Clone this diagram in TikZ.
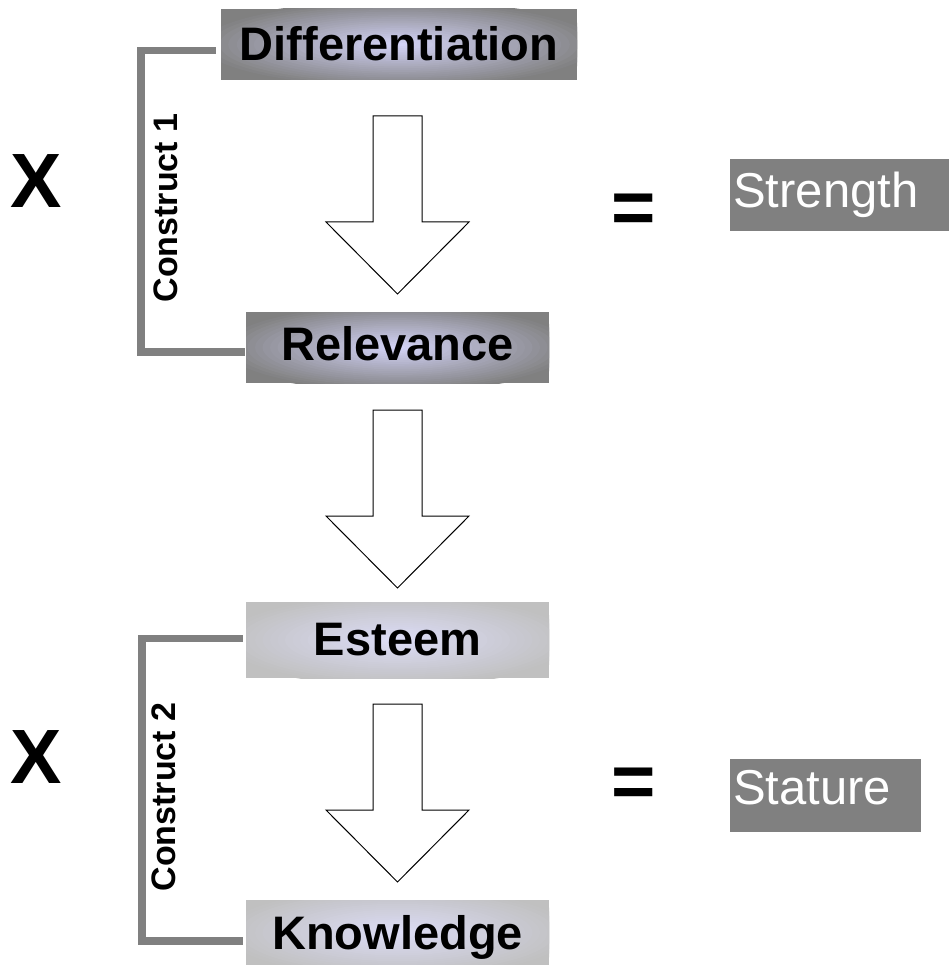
\documentclass[tikz,border=0pt]{standalone}
\usepackage{fontspec}
\setmainfont{Liberation Sans}

\definecolor{boxdark}{RGB}{128,128,128}
\definecolor{boxlight}{RGB}{192,192,192}
\definecolor{glowlav}{RGB}{210,210,246}
\definecolor{glowpale}{RGB}{220,220,246}

\begin{document}
\begin{tikzpicture}[x=1pt,y=1pt,
  stepbox/.style={inner sep=0pt,text height=34pt,minimum height=71pt,font=\fontsize{47pt}{47pt}\selectfont\bfseries},
  glow/.style n args={4}{fill=#2,path picture={
    \foreach \k [evaluate=\k as \pct using int(\k*100/23), evaluate=\k as \rf using 1-\k/24] in {0,...,23}
      \fill[#1!\pct!#2] (path picture bounding box.center) ellipse [x radius=\rf*#3pt, y radius=\rf*#4pt];}},
  darkbox/.style={stepbox,glow={glowlav}{boxdark}{#1}{44}},
  palebox/.style={stepbox,glow={glowpale}{boxlight}{#1}{46}},
  result/.style={fill=boxdark,text=white,inner sep=0pt,inner xsep=3pt,align=left,anchor=north west,font=\fontsize{49pt}{49pt}\selectfont},
  construct/.style={rotate=90,inner sep=0pt,text height=24.5pt,text depth=0pt,font=\fontsize{34pt}{34pt}\selectfont\bfseries},
  mult/.style={inner sep=0pt,text height=55pt,text depth=0pt,font=\fontsize{77pt}{77pt}\selectfont\bfseries},
  eqsign/.style={inner sep=0pt,anchor=base,font=\fontsize{76pt}{76pt}\selectfont\bfseries},
  bracket/.style={draw=boxdark,line width=7.5pt},
  blockarrow/.style={draw=black,fill=white,line width=1pt}]
\useasboundingbox (0,0) rectangle (949,-965);

% construct 1
\node[darkbox=205,minimum width=356pt,text depth=2pt] (diff) at (399,-44.5) {Differentiation};
\node[darkbox=180,minimum width=303pt,text depth=9pt] (rel) at (397.5,-347.5) {Relevance};
\draw[bracket] ([shift={(-5pt,-6pt)}]diff.west) -- ++(-75,0) |- ([shift={(-1pt,-4.5pt)}]rel.west);
\node[construct] (con1) at (165.5,-208) {Construct 1};
\node[mult] (x1) at (36.5,-180) {X};
\node[eqsign] (eq1) at (634,-234) {=};
\node[result,text width=213pt,text height=48pt,text depth=24pt] (str) at (730,-159) {Strength};

% construct 2
\node[palebox=180,minimum width=303pt,minimum height=76pt,text depth=4pt] (est) at (397.5,-640) {Esteem};
\node[palebox=180,minimum width=303pt,minimum height=65pt,text depth=0pt] (know) at (397.5,-932.5) {Knowledge};
\draw[bracket] ([shift={(-3pt,1.5pt)}]est.west) -- ++(-101,0) |- ([shift={(-3pt,-8.5pt)}]know.west);
\node[construct] (con2) at (163,-797) {Construct 2};
\node[mult] (x2) at (36.5,-755.5) {X};
\node[eqsign] (eq2) at (633.5,-807) {=};
\node[result,text width=185pt,text height=45pt,text depth=28pt] (stat) at (730,-759) {Stature};

% block arrows
\foreach \top in {116,410,704}
  \draw[blockarrow] (373,-\top) -- (422,-\top) -- (422,-\top-106) -- (469,-\top-106) -- (397.5,-\top-178) -- (326,-\top-106) -- (373,-\top-106) -- cycle;

\end{tikzpicture}
\end{document}
